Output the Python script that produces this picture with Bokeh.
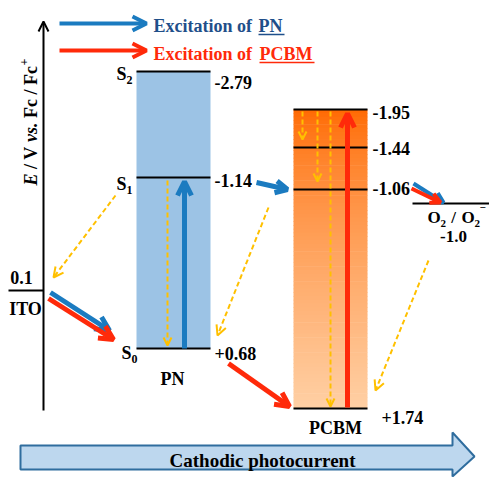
import numpy as np
from bokeh.plotting import figure
from bokeh.models import Range1d, Arrow, OpenHead
from bokeh.core.properties import value
from bokeh.embed import file_html
from bokeh.resources import INLINE

# ---------------- data (schematic diagram positions, reference pixel frame) -------------
pn_sub = ["2", "1", "0"]
pn_values = ["-2.79", "-1.14", "+0.68"]
pn_y = [71, 177, 348]

pcbm_values = ["-1.95", "-1.44", "-1.06", "+1.74"]
pcbm_y = [109, 147, 189, 408]

ito_value = "0.1"
ito_y = 290
o2_value = "-1.0"
o2_y = 203

legend_texts = ["Excitation of", "Excitation of"]
legend_keys = ["PN", "PCBM"]
bottom_text = "Cathodic photocurrent"

# ---------------- styling ----------------
FONT = value("Liberation Serif")
BLUE = "#1b7bc0"
RED = "#ff2a0a"
YEL = "#ffc000"
NAVY = "#1f4f8a"

p = figure(width=489, height=477, x_range=Range1d(0, 489), y_range=Range1d(477, 0),
           output_backend="svg", toolbar_location=None, min_border=0,
           x_axis_location=None, y_axis_location=None)
p.xgrid.visible = False
p.ygrid.visible = False
p.outline_line_color = None
p.background_fill_color = "white"


def txt(x, y, s, size=18, color="black", align="left", baseline="middle",
        style="bold", angle=0.0):
    p.text(x=[x], y=[y], text=[s], text_font=FONT, text_font_size=f"{size}px",
           text_font_style=style, text_color=color, text_align=align,
           text_baseline=baseline, angle=angle)


def arrow(x0, y0, x1, y1, color, lw, head, dash="solid", head_lw=None):
    p.add_layout(Arrow(end=OpenHead(size=head, line_color=color,
                                    line_width=head_lw if head_lw else lw),
                       x_start=x0, y_start=y0, x_end=x1, y_end=y1,
                       line_color=color, line_width=lw, line_dash=dash))


# ---------------- bottom big arrow ----------------
p.patch(x=[20, 452, 452, 474, 452, 452, 20], y=[445, 445, 432, 456, 476, 469, 469],
        fill_color="#bdd7ee", line_color="#2f6d9e", line_width=2)
txt(262, 460, bottom_text, size=19, align="center")

# ---------------- PN box ----------------
pn_left, pn_right = 136, 210
p.quad(left=[pn_left], right=[pn_right], top=[pn_y[0]], bottom=[pn_y[-1]],
       fill_color="#9cc3e5", line_color=None)

# ---------------- PCBM gradient box ----------------
pc_left, pc_right = 293, 367
N = 80
edges = np.linspace(pcbm_y[0], pcbm_y[-1], N + 1)
top_c = np.array([255, 104, 0])
bot_c = np.array([255, 207, 164])
cols = []
for i in range(N):
    t = ((i + 0.5) / N) ** 0.75
    c = top_c + (bot_c - top_c) * t
    cols.append("#%02x%02x%02x" % tuple(int(round(v)) for v in c))
p.quad(left=pc_left, right=pc_right, top=edges[:-1] - 0.3, bottom=edges[1:] + 0.3,
       fill_color=cols, line_color=None)

# ---------------- level lines ----------------
p.segment(x0=[pn_left] * 3, x1=[pn_right] * 3, y0=pn_y, y1=pn_y, line_color="black", line_width=2)
p.segment(x0=[pc_left] * 4, x1=[pc_right] * 4, y0=pcbm_y, y1=pcbm_y, line_color="black", line_width=2)
p.segment(x0=[8], x1=[43], y0=[ito_y], y1=[ito_y], line_color="black", line_width=2)
p.segment(x0=[412], x1=[489], y0=[o2_y], y1=[o2_y], line_color="black", line_width=2)

# ---------------- vertical energy axis ----------------
arrow(43, 410, 43, 21, "black", 2, 10)
# axis label: E / V vs. Fc / Fc+
A = np.pi / 2
txt(30, 185, "E", style="bold italic", angle=A)
txt(30, 168.5, "/ V", angle=A)
txt(30, 141.5, "vs.", style="bold italic", angle=A)
txt(30, 117.5, "Fc / Fc", angle=A)
txt(23, 65, "+", size=12, angle=A)

# ---------------- labels ----------------
pn_s_right = [132, 132, 137]
pn_s_dy = [2, 6, 4]
pn_lab_dy = [11, 3, 5]
for yy, sub, val, sr, sdy, ldy in zip(pn_y, pn_sub, pn_values, pn_s_right, pn_s_dy, pn_lab_dy):
    txt(sr - 6, yy + sdy, "S", align="right")
    txt(sr - 6, yy + sdy + 6, sub, size=12)
    txt(214, yy + ldy, val)
txt(172, 378, "PN", align="center")

pc_lab_x = [372, 372, 372, 381]
pc_lab_dy = [3, 1, -1, 9]
for yy, val, lx, ldy in zip(pcbm_y, pcbm_values, pc_lab_x, pc_lab_dy):
    txt(lx, yy + ldy, val)
txt(335, 427, "PCBM", align="center")

txt(21, ito_y - 13, ito_value, align="center")
txt(25, ito_y + 18, "ITO", align="center")

# O2 / O2-
txt(427, o2_y + 14, "O", size=17)
txt(440, o2_y + 20, "2", size=11)
txt(453, o2_y + 14, "/", size=17, align="center")
txt(461, o2_y + 14, "O", size=17)
txt(474, o2_y + 20, "2", size=11)
txt(479, o2_y + 4, "\u2212", size=11)
txt(453, o2_y + 33, o2_value, size=17, align="center")

# ---------------- legend ----------------
arrow(59, 23, 146, 23, BLUE, 4, 14)
arrow(59, 50, 146, 50, RED, 4, 14)
txt(153, 25, legend_texts[0], color=NAVY)
txt(258, 25, legend_keys[0], color=NAVY)
txt(153, 53, legend_texts[1], color=RED)
txt(259, 53, legend_keys[1], color=RED)
p.segment(x0=[258, 259], x1=[284, 314], y0=[34, 62], y1=[34, 62],
          line_color=[NAVY, RED], line_width=1.5)

# ---------------- process arrows ----------------
# dashed relaxation arrows
arrow(167, 180, 167, 345, YEL, 2, 8, dash="5 3")
arrow(302, 111, 302, 139, YEL, 2, 8, dash="5 3")
arrow(317, 111, 317, 181, YEL, 2, 8, dash="5 3")
arrow(330, 111, 330, 406, YEL, 2, 8, dash="5 3")
arrow(115, 195, 53, 277, YEL, 2, 10, dash="5 3")
arrow(268, 207, 217, 335, YEL, 2, 10, dash="5 3")
arrow(428, 260, 375, 390, YEL, 2, 10, dash="5 3")

# excitation arrows
arrow(184, 348, 184, 181, BLUE, 5, 14)
arrow(347, 407, 347, 113, RED, 5, 14)

# electron transfer arrows
arrow(50, 292, 109, 330, BLUE, 5, 14)
arrow(48, 298, 113, 339, RED, 5, 14)
arrow(256, 182, 287, 189, BLUE, 5, 12)
arrow(413, 183, 443, 202, BLUE, 4, 10)
arrow(411, 188, 440, 202, RED, 4, 10)
arrow(228, 363, 289, 406, RED, 5, 14)

open("out.html", "w").write(file_html(p, INLINE))
